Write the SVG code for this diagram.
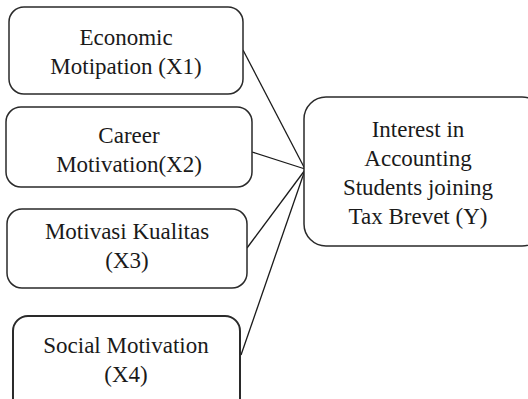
<svg xmlns="http://www.w3.org/2000/svg" width="528" height="399" viewBox="0 0 528 399">
<style>
.box{fill:#fff;stroke:#2a2a2a;stroke-width:1.5}
.t{font-family:"Liberation Serif","Times New Roman",serif;font-size:23px;fill:#1a1a1a;text-anchor:middle}
.c{stroke:#1a1a1a;stroke-width:1.3;fill:none}
</style>
<rect width="528" height="399" fill="#fff"/>
<g id="connectors">
<line class="c" x1="243" y1="50" x2="305" y2="169"/>
<line class="c" x1="252" y1="152" x2="305" y2="169"/>
<line class="c" x1="247" y1="248" x2="305" y2="170"/>
<line class="c" x1="241" y1="355" x2="305" y2="170"/>
</g>
<g id="x1">
<rect class="box" x="9" y="7" width="234" height="87" rx="15"/>
<text class="t" x="126" y="45">Economic</text>
<text class="t" x="126" y="74">Motipation (X1)</text>
</g>
<g id="x2">
<rect class="box" x="6" y="107" width="246" height="80" rx="15"/>
<text class="t" x="129" y="143">Career</text>
<text class="t" x="129" y="172">Motivation(X2)</text>
</g>
<g id="x3">
<rect class="box" x="7" y="209" width="240" height="79" rx="15"/>
<text class="t" x="127" y="239">Motivasi Kualitas</text>
<text class="t" x="127" y="268">(X3)</text>
</g>
<g id="x4">
<rect class="box" x="13" y="316" width="227" height="100" rx="15" style="stroke-width:2"/>
<text class="t" x="126" y="353">Social Motivation</text>
<text class="t" x="126" y="382">(X4)</text>
</g>
<g id="y">
<rect class="box" x="304" y="97" width="240" height="149" rx="22"/>
<text class="t" x="418" y="137">Interest in</text>
<text class="t" x="418" y="166">Accounting</text>
<text class="t" x="418" y="195">Students joining</text>
<text class="t" x="418" y="224">Tax Brevet (Y)</text>
</g>
</svg>
